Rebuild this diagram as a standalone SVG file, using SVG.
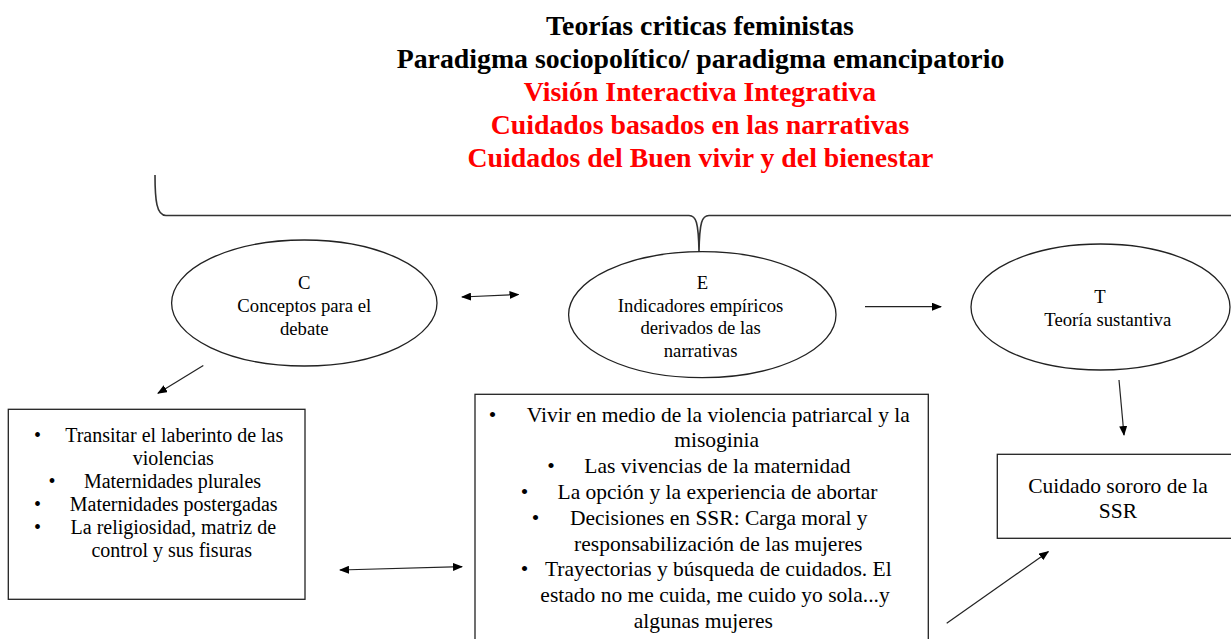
<svg xmlns="http://www.w3.org/2000/svg" width="1231" height="639" viewBox="0 0 1231 639">
<style>
.t{font-family:"Liberation Serif","Times New Roman",serif;fill:#000}
.title{font-size:27.8px;font-weight:bold;text-anchor:middle}
.red{fill:#ff0000}
.el{font-size:18.7px;text-anchor:middle}
.lc{font-size:20px}
.le{font-size:21.5px}
.mid{text-anchor:middle}
.shape{fill:#fff;stroke:#222;stroke-width:1.3}
.conn{stroke:#222;stroke-width:1.2;fill:none}
</style>
<defs>
<marker id="ah" viewBox="0 0 10 8" refX="9" refY="4" markerWidth="10" markerHeight="8" markerUnits="userSpaceOnUse" orient="auto-start-reverse">
<path d="M0,0 L10,4 L0,8 z" fill="#000"/>
</marker>
</defs>
<rect width="1231" height="639" fill="#fff"/>
<g id="title">
<text class="t title" x="700" y="35">Teorías criticas feministas</text>
<text class="t title" x="700.5" y="68.3">Paradigma sociopolítico/ paradigma emancipatorio</text>
<text class="t title red" x="700" y="101.3">Visión Interactiva Integrativa</text>
<text class="t title red" x="700" y="134.2">Cuidados basados en las narrativas</text>
<text class="t title red" x="700.5" y="167">Cuidados del Buen vivir y del bienestar</text>
</g>
<g id="brace">
<path d="M155,175 C155,200 156.5,215.5 166,215.5 L689,215.5 C696,215.5 698.5,222 699,252 C699.5,222 702,215.5 709,215.5 L1240,215.5" fill="none" stroke="#333" stroke-width="1.6"/>
</g>
<g id="node-C">
<ellipse class="shape" cx="304.3" cy="303" rx="132.7" ry="63"/>
<text class="t el" x="304.3" y="289">C</text>
<text class="t el" x="304.3" y="312">Conceptos para el</text>
<text class="t el" x="304.3" y="335">debate</text>
</g>
<g id="node-E">
<ellipse class="shape" cx="702.3" cy="314.7" rx="133.7" ry="63"/>
<text class="t el" x="702.5" y="289">E</text>
<text class="t el" x="700.6" y="311.5">Indicadores empíricos</text>
<text class="t el" x="700.6" y="334">derivados de las</text>
<text class="t el" x="700.6" y="356.5">narrativas</text>
</g>
<g id="node-T">
<ellipse class="shape" cx="1100.5" cy="307" rx="129.5" ry="63"/>
<text class="t el" x="1100" y="302.7">T</text>
<text class="t el" x="1107.8" y="326">Teoría sustantiva</text>
</g>
<g id="node-Clist">
<rect class="shape" x="8.3" y="409.3" width="296.7" height="190"/>
<text class="t lc mid" x="37.5" y="441.5">•</text>
<text class="t lc mid" x="174.2" y="441.5">Transitar el laberinto de las</text>
<text class="t lc mid" x="173.3" y="464.5">violencias</text>
<text class="t lc mid" x="52" y="487.5">•</text>
<text class="t lc mid" x="172.5" y="487.5">Maternidades plurales</text>
<text class="t lc mid" x="37.5" y="510.5">•</text>
<text class="t lc mid" x="173.7" y="510.5">Maternidades postergadas</text>
<text class="t lc mid" x="37.5" y="533.5">•</text>
<text class="t lc mid" x="173.3" y="533.5">La religiosidad, matriz de</text>
<text class="t lc mid" x="171.7" y="556.5">control y sus fisuras</text>
</g>
<g id="node-Elist">
<rect class="shape" x="475" y="394.3" width="453.3" height="260"/>
<text class="t le mid" x="492.5" y="421.5">•</text>
<text class="t le mid" x="718.3" y="421.5">Vivir en medio de la violencia patriarcal y la</text>
<text class="t le mid" x="716.7" y="447.3">misoginia</text>
<text class="t le mid" x="551" y="473.1">•</text>
<text class="t le mid" x="717.5" y="473.1">Las vivencias de la maternidad</text>
<text class="t le mid" x="524.5" y="498.9">•</text>
<text class="t le mid" x="717.5" y="498.9">La opción y la experiencia de abortar</text>
<text class="t le mid" x="535.5" y="524.7">•</text>
<text class="t le mid" x="718.8" y="524.7">Decisiones en SSR: Carga moral y</text>
<text class="t le mid" x="718.3" y="550.5">responsabilización de las mujeres</text>
<text class="t le mid" x="524.5" y="576.3">•</text>
<text class="t le mid" x="718.3" y="576.3">Trayectorias y búsqueda de cuidados. El</text>
<text class="t le mid" x="715" y="602.1">estado no me cuida, me cuido yo sola...y</text>
<text class="t le mid" x="703.3" y="627.9">algunas mujeres</text>
</g>
<g id="node-Cuidado">
<rect class="shape" x="997.3" y="454.3" width="245" height="84"/>
<text class="t mid" style="font-size:21.5px" x="1118" y="493">Cuidado sororo de la</text>
<text class="t mid" style="font-size:21.5px" x="1118" y="517.5">SSR</text>
</g>
<g id="connectors">
<line class="conn" x1="462" y1="297" x2="518.5" y2="294.5" marker-start="url(#ah)" marker-end="url(#ah)"/>
<line class="conn" x1="865" y1="306.7" x2="941" y2="306.7" marker-end="url(#ah)"/>
<line class="conn" x1="203.3" y1="365.5" x2="158" y2="393.3" marker-end="url(#ah)"/>
<line class="conn" x1="340" y1="570" x2="462" y2="566.7" marker-start="url(#ah)" marker-end="url(#ah)"/>
<line class="conn" x1="1119" y1="380" x2="1124" y2="435" marker-end="url(#ah)"/>
<line class="conn" x1="946.7" y1="623.3" x2="1048.3" y2="551.7" marker-end="url(#ah)"/>
</g>
</svg>
